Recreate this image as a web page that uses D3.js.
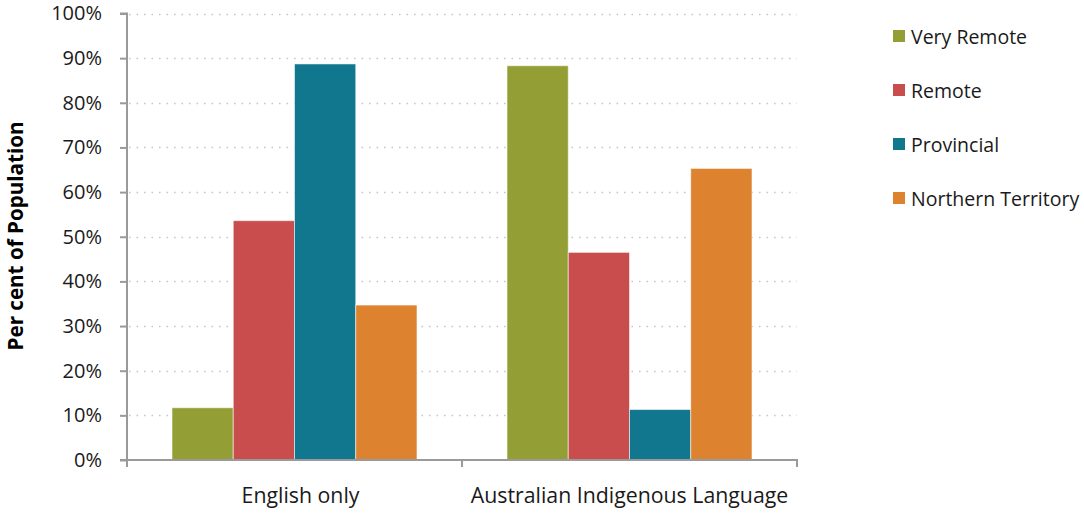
<!DOCTYPE html>
<html>
<head>
<meta charset="utf-8">
<script src="https://cdn.jsdelivr.net/npm/d3@7"></script>
<style>
  html, body { margin: 0; padding: 0; background: #fff; }
  svg { display: block; font-family: "Open Sans", "Noto Sans", sans-serif; }
</style>
</head>
<body>
<svg id="chart" width="1084" height="513"></svg>
<script>
// Language spoken at home, by region
const categories = ["English only", "Australian Indigenous Language"];
const seriesNames = ["Very Remote", "Remote", "Provincial", "Northern Territory"];
const veryRemote = [11.7, 88.3];
const remote = [53.6, 46.5];
const provincial = [88.7, 11.3];
const northernTerritory = [34.7, 65.3];
const yTicks = [0, 10, 20, 30, 40, 50, 60, 70, 80, 90, 100];
const seriesColors = ["#939E35", "#C84D4C", "#10778E", "#DD822F"];

const seriesValues = [veryRemote, remote, provincial, northernTerritory];
const rows = categories.map((c, i) => ({
  category: c,
  values: seriesNames.map((s, j) => ({ series: s, value: seriesValues[j][i] }))
}));

const svg = d3.select("#chart");
const plot = { left: 127, right: 797, top: 13.5, bottom: 460 };

const x0 = d3.scaleBand().domain(categories).range([plot.left, plot.right]).padding(0);
const x1 = d3.scaleBand().domain(seriesNames).range([0, x0.bandwidth()])
  .paddingInner(0).paddingOuter(0.735);
const y = d3.scaleLinear().domain([0, 100]).range([plot.bottom, plot.top]);
const color = d3.scaleOrdinal().domain(seriesNames).range(seriesColors);

// dotted horizontal gridlines
svg.append("g")
  .selectAll("line")
  .data(yTicks.filter(t => t > 0))
  .join("line")
  .attr("x1", plot.left + 2)
  .attr("x2", plot.right)
  .attr("y1", d => Math.round(y(d)) + 0.5)
  .attr("y2", d => Math.round(y(d)) + 0.5)
  .attr("stroke", "#c6c6c6")
  .attr("stroke-width", 1.6)
  .attr("stroke-dasharray", "1.6,5.9");

// bars
svg.append("g")
  .selectAll("g")
  .data(rows)
  .join("g")
  .attr("transform", d => `translate(${x0(d.category)},0)`)
  .selectAll("rect")
  .data(d => d.values)
  .join("rect")
  .attr("x", d => x1(d.series))
  .attr("width", x1.bandwidth())
  .attr("y", d => y(d.value))
  .attr("height", d => y(0) - y(d.value))
  .attr("fill", d => color(d.series))
  .attr("stroke", "rgba(255,255,255,0.55)")
  .attr("stroke-width", 1);

// y axis
const yAxis = d3.axisLeft(y)
  .tickValues(yTicks)
  .tickFormat(d => d + "%")
  .tickSize(7)
  .tickPadding(18);
const gy = svg.append("g")
  .attr("transform", `translate(${plot.left},0)`)
  .call(yAxis);
gy.select(".domain").attr("stroke", "#9a9a9a").attr("stroke-width", 2)
  .attr("d", `M-7,${plot.top}H0V${plot.bottom + 7}`);
gy.selectAll(".tick line").attr("stroke", "#9a9a9a").attr("stroke-width", 2);
gy.selectAll(".tick text")
  .attr("fill", "#1a1a1a")
  .style("font-family", "'Open Sans', sans-serif")
  .style("font-size", "20px");

// x axis with ticks at category boundaries
const gx = svg.append("g").attr("transform", `translate(0,${plot.bottom})`);
gx.append("line")
  .attr("x1", plot.left - 7).attr("x2", plot.right + 1)
  .attr("y1", 0).attr("y2", 0)
  .attr("stroke", "#9a9a9a").attr("stroke-width", 2);
const boundaries = categories.map(c => x0(c)).concat([x0(categories[categories.length - 1]) + x0.bandwidth()]);
gx.selectAll("line.tk")
  .data(boundaries)
  .join("line")
  .attr("class", "tk")
  .attr("x1", d => d).attr("x2", d => d)
  .attr("y1", 0).attr("y2", 7)
  .attr("stroke", "#9a9a9a").attr("stroke-width", 2);
gx.selectAll("text")
  .data(categories)
  .join("text")
  .attr("x", d => x0(d) + x0.bandwidth() / 2)
  .attr("dx", (d, i) => i === 0 ? 6 : 0)
  .attr("y", 43)
  .attr("text-anchor", "middle")
  .attr("fill", "#1a1a1a")
  .style("font-size", "21.3px")
  .text(d => d);

// y axis title
svg.append("text")
  .attr("transform", `translate(23,236) rotate(-90)`)
  .attr("text-anchor", "middle")
  .attr("fill", "#000")
  .style("font-size", "20.6px")
  .style("font-weight", "bold")
  .text("Per cent of Population");

// legend
const legend = svg.append("g").attr("transform", "translate(893,30)");
const li = legend.selectAll("g")
  .data(seriesNames)
  .join("g")
  .attr("transform", (d, i) => `translate(0,${i * 54})`);
li.append("rect")
  .attr("width", 12).attr("height", 12)
  .attr("fill", d => color(d));
li.append("text")
  .attr("x", 18)
  .attr("y", 13.5)
  .attr("fill", "#1a1a1a")
  .style("font-size", "19.5px")
  .text(d => d);
</script>
</body>
</html>
